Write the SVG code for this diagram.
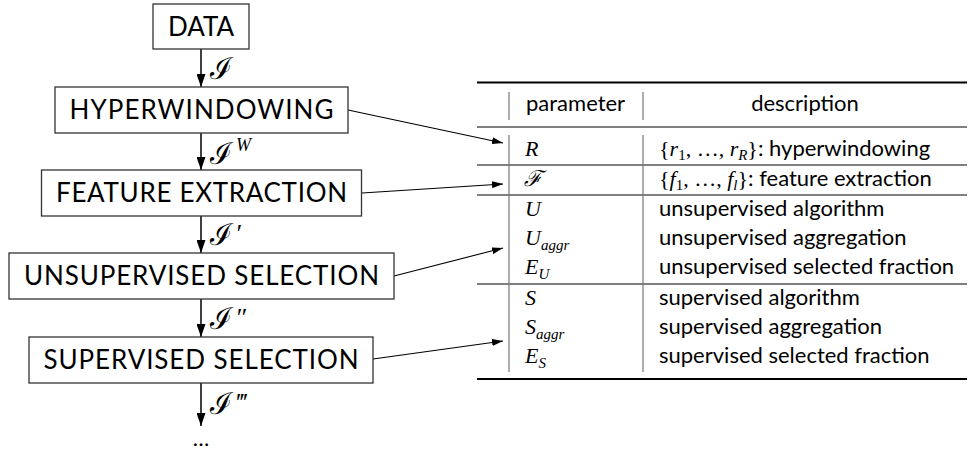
<svg xmlns="http://www.w3.org/2000/svg" width="968" height="450" viewBox="0 0 968 450">
<defs>
<marker id="ah" markerUnits="userSpaceOnUse" markerWidth="13" markerHeight="9" refX="13" refY="4.5" orient="auto"><path d="M0,0 L13,4.5 L0,9 z" fill="#000"/></marker>
<marker id="ahs" markerUnits="userSpaceOnUse" markerWidth="11" markerHeight="7" refX="11" refY="3.5" orient="auto"><path d="M0,0 L11,3.5 L0,7 z" fill="#000"/></marker>
<style>
.box{fill:#fff;stroke:#333;stroke-width:1.3}
.bt{font-family:Lato,"Open Sans",sans-serif;font-size:26px;fill:#000;text-anchor:middle}
.lab{font-family:"DejaVu Serif",serif;font-style:normal;font-weight:normal;font-size:30px;fill:#000}
.pr{font-family:"Liberation Serif",serif;font-style:italic;font-size:26px}
.sup{font-family:"Liberation Serif",serif;font-style:italic;font-size:18px}
.flow{stroke:#000;stroke-width:1.5;fill:none}
.conn{stroke:#000;stroke-width:1.1;fill:none}
.rule{stroke:#000;fill:none}
.vl{stroke:#777;stroke-width:1.2}
.tt{font-family:Lato,"Open Sans",sans-serif;font-size:22px;fill:#000}
.m{font-family:"Liberation Serif",serif;font-style:italic;font-size:22px;fill:#000}
.mu{font-family:"Liberation Serif",serif;font-style:normal}
.sub{font-size:15px}
</style>
</defs>
<g id="connectors">
<line class="flow" x1="201" y1="49" x2="201" y2="87" marker-end="url(#ah)"/>
<line class="flow" x1="201" y1="133" x2="201" y2="170" marker-end="url(#ah)"/>
<line class="flow" x1="201" y1="216" x2="201" y2="253" marker-end="url(#ah)"/>
<line class="flow" x1="201" y1="299" x2="201" y2="337" marker-end="url(#ah)"/>
<line class="flow" x1="201" y1="383" x2="201" y2="426" marker-end="url(#ah)"/>
<line class="conn" x1="348" y1="110" x2="503" y2="143" marker-end="url(#ahs)"/>
<line class="conn" x1="362" y1="193" x2="503" y2="184" marker-end="url(#ahs)"/>
<line class="conn" x1="394" y1="276" x2="503" y2="248" marker-end="url(#ahs)"/>
<line class="conn" x1="373" y1="359" x2="503" y2="341" marker-end="url(#ahs)"/>
<text class="lab" x="210" y="79">ℐ</text>
<text class="lab" x="210" y="164">ℐ<tspan class="sup" dx="4" dy="-13">W</tspan></text>
<text class="lab" x="210" y="245">ℐ<tspan class="pr" dx="3" dy="-3">′</tspan></text>
<text class="lab" x="210" y="329">ℐ<tspan class="pr" dx="3" dy="-3">″</tspan></text>
<text class="lab" x="210" y="414">ℐ<tspan class="pr" dx="3" dy="-3">‴</tspan></text>
<text class="tt" x="201" y="446" text-anchor="middle">…</text>
</g>
<g id="data"><rect class="box" x="153" y="4" width="96" height="45"/><text class="bt" x="201" y="36">DATA</text></g>
<g id="hyperwindowing"><rect class="box" x="55" y="87" width="293" height="46"/><text class="bt" x="201.5" y="119" textLength="264">HYPERWINDOWING</text></g>
<g id="feature-extraction"><rect class="box" x="41.5" y="170" width="320" height="46"/><text class="bt" x="201.5" y="202" textLength="291">FEATURE EXTRACTION</text></g>
<g id="unsupervised-selection"><rect class="box" x="9" y="253" width="385" height="46"/><text class="bt" x="201.5" y="285" textLength="355">UNSUPERVISED SELECTION</text></g>
<g id="supervised-selection"><rect class="box" x="29" y="337" width="344" height="46"/><text class="bt" x="201" y="369" textLength="315">SUPERVISED SELECTION</text></g>
<g id="table">
<line class="rule" x1="477" y1="82.5" x2="967" y2="82.5" stroke-width="2"/>
<line class="rule" x1="477" y1="127" x2="967" y2="127" stroke-width="1.2"/>
<line class="rule" x1="477" y1="165" x2="967" y2="165" stroke-width="1"/>
<line class="rule" x1="477" y1="195" x2="967" y2="195" stroke-width="1"/>
<line class="rule" x1="477" y1="284" x2="967" y2="284" stroke-width="1"/>
<line class="rule" x1="477" y1="379" x2="967" y2="379" stroke-width="2"/>
<line class="vl" x1="509" y1="92" x2="509" y2="120"/>
<line class="vl" x1="643" y1="92" x2="643" y2="120"/>
<line class="vl" x1="509" y1="135" x2="509" y2="372"/>
<line class="vl" x1="643" y1="135" x2="643" y2="372"/>
<text class="tt" x="526" y="111">parameter</text>
<text class="tt" x="805" y="111" text-anchor="middle">description</text>
<text class="m" x="525" y="156">R</text>
<text class="m" x="524" y="186" font-family="DejaVu Serif" font-size="20" font-style="normal">ℱ</text>
<text class="m" x="525" y="216">U</text>
<text class="m" x="525" y="245">U<tspan class="sub" dy="5">aggr</tspan></text>
<text class="m" x="525" y="274">E<tspan class="sub" dy="5">U</tspan></text>
<text class="m" x="525" y="305">S</text>
<text class="m" x="525" y="334">S<tspan class="sub" dy="5">aggr</tspan></text>
<text class="m" x="525" y="363">E<tspan class="sub" dy="5">S</tspan></text>
<text class="m" x="659" y="156"><tspan class="mu">{</tspan>r<tspan class="sub mu" dy="4">1</tspan><tspan class="mu" dy="-4">, …, </tspan>r<tspan class="sub" dy="4">R</tspan><tspan class="mu" dy="-4">}</tspan><tspan class="tt" font-style="normal">: hyperwindowing</tspan></text>
<text class="m" x="659" y="186"><tspan class="mu">{</tspan>f<tspan class="sub mu" dy="4">1</tspan><tspan class="mu" dy="-4">, …, </tspan>f<tspan class="sub" dy="4">l</tspan><tspan class="mu" dy="-4">}</tspan><tspan class="tt" font-style="normal">: feature extraction</tspan></text>
<text class="tt" x="659" y="216">unsupervised algorithm</text>
<text class="tt" x="659" y="245">unsupervised aggregation</text>
<text class="tt" x="659" y="274">unsupervised selected fraction</text>
<text class="tt" x="659" y="305">supervised algorithm</text>
<text class="tt" x="659" y="334">supervised aggregation</text>
<text class="tt" x="659" y="363">supervised selected fraction</text>
</g>
</svg>
